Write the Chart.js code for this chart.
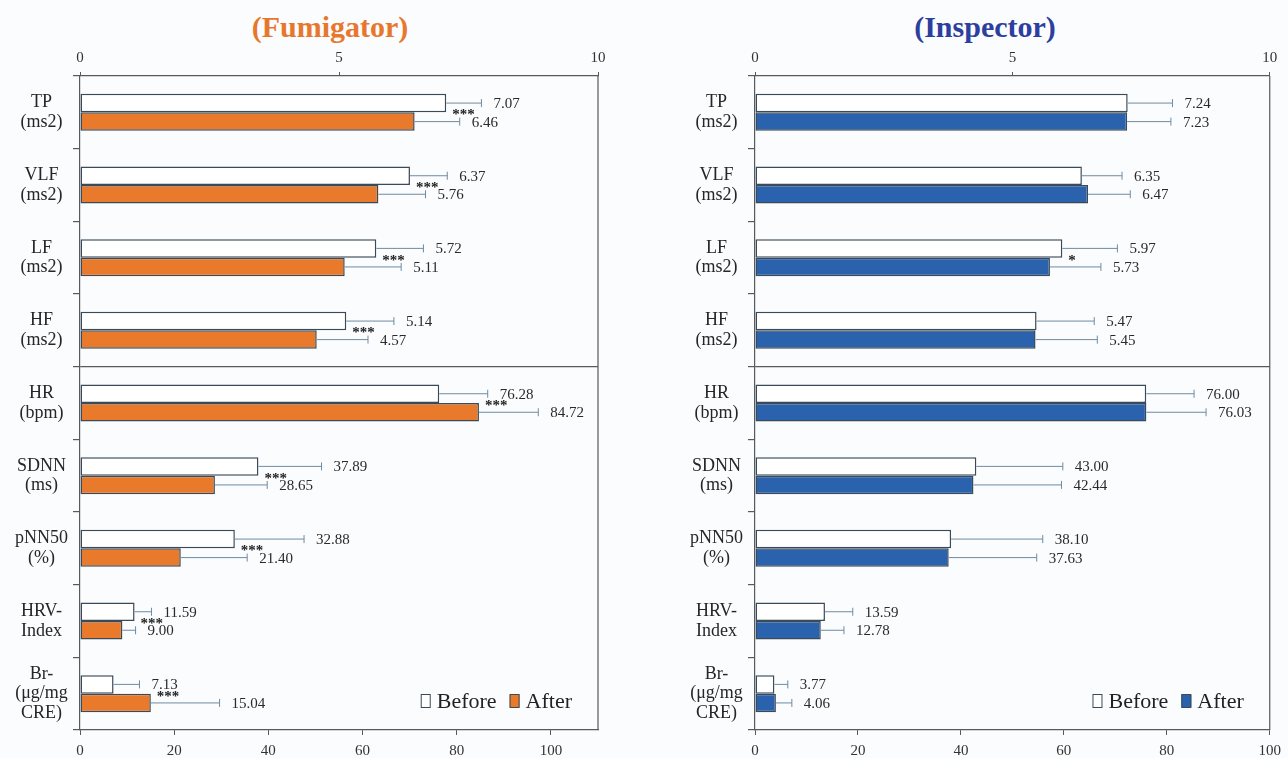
<!DOCTYPE html>
<html><head><meta charset="utf-8">
<script src="https://cdn.jsdelivr.net/npm/chart.js@4"></script>
<style>
html,body{margin:0;padding:0;background:#fbfcfd;}
body{width:1288px;height:758px;position:relative;overflow:hidden;}
.title{position:absolute;top:9px;font-family:'Liberation Serif',serif;font-weight:bold;font-size:30px;line-height:36px;transform:translateX(-50%);white-space:nowrap;}
canvas{position:absolute;top:0;}
</style></head><body>
<div class="title" style="left:330px;color:#E8772E">(Fumigator)</div>
<div class="title" style="left:985px;color:#2C3E9E">(Inspector)</div>
<canvas id="c1" width="620" height="758" style="left:0"></canvas>
<canvas id="c2" width="613" height="758" style="left:675px"></canvas>
<script>
// ---------- data ----------
const categories = [["TP","(ms2)"],["VLF","(ms2)"],["LF","(ms2)"],["HF","(ms2)"],["HR","(bpm)"],["SDNN","(ms)"],["pNN50","(%)"],["HRV-","Index"],["Br-","(μg/mg","CRE)"]];
const topAxisRows = 4; // first rows are read on the top (0-10) axis
const topTickValues = [0, 5, 10];
const bottomTickValues = [0, 20, 40, 60, 80, 100];
const seriesLabels = ["Before", "After"];

const fumBefore   = [7.07, 6.37, 5.72, 5.14, 76.28, 37.89, 32.88, 11.59, 7.13];
const fumAfter    = [6.46, 5.76, 5.11, 4.57, 84.72, 28.65, 21.40, 9.00, 15.04];
const fumBeforeSD = [0.68, 0.72, 0.91, 0.92, 10.3, 13.4, 14.7, 3.6, 5.5];
const fumAfterSD  = [0.87, 0.91, 1.09, 0.99, 12.6, 11.1, 14.1, 2.8, 14.6];
const fumSig      = ["***","***","***","***","***","***","***","***","***"];
const fumBottomMax = 110;

const insBefore   = [7.24, 6.35, 5.97, 5.47, 76.00, 43.00, 38.10, 13.59, 3.77];
const insAfter    = [7.23, 6.47, 5.73, 5.45, 76.03, 42.44, 37.63, 12.78, 4.06];
const insBeforeSD = [0.87, 0.78, 1.07, 1.12, 9.3, 16.8, 17.8, 5.4, 2.6];
const insAfterSD  = [0.85, 0.82, 0.99, 1.20, 11.6, 17.1, 17.1, 4.5, 3.1];
const insSig      = ["","","*","","","","","",""];
const insBottomMax = 100;

// ---------- styles ----------
const FONT = "'Liberation Serif', serif";
const AXIS = '#555a5e';
const BAR_BORDER = '#3a4a58';
const ERR = '#6e8ba3';
Chart.defaults.font.family = FONT;
Chart.defaults.color = '#333';

const onTop = arr => arr.map((v, i) => i < topAxisRows ? v : null);
const onBottom = arr => arr.map((v, i) => i >= topAxisRows ? v : null);

const decorPlugin = {
  id: 'decor',
  beforeDatasetsDraw(chart) {
    const {ctx, chartArea: a} = chart;
    ctx.save();
    ctx.strokeStyle = AXIS; ctx.lineWidth = 1.2;
    ctx.beginPath(); ctx.moveTo(a.right, a.top); ctx.lineTo(a.right, a.bottom); ctx.stroke();
    ctx.restore();
  },
  afterDatasetsDraw(chart, args, opts) {
    const {ctx, chartArea: a} = chart;
    ctx.save();
    // error bars + value labels
    chart.data.datasets.forEach((ds, di) => {
      const meta = chart.getDatasetMeta(di);
      const xs = chart.scales[ds.xAxisID];
      meta.data.forEach((bar, i) => {
        const v = ds.data[i];
        if (v === null || v === undefined) return;
        const x0 = bar.x, y = bar.y;
        const x1 = xs.getPixelForValue(v + ds.sd[i]);
        ctx.strokeStyle = ERR; ctx.lineWidth = 1;
        ctx.beginPath();
        ctx.moveTo(x0, y); ctx.lineTo(x1, y);
        ctx.moveTo(x1, y - 4); ctx.lineTo(x1, y + 4);
        ctx.stroke();
        ctx.fillStyle = '#2a2a2a';
        ctx.font = "15px " + FONT;
        ctx.textAlign = 'left'; ctx.textBaseline = 'middle';
        ctx.fillText(v.toFixed(2), x1 + 12, y + 1);
      });
    });
    // significance marks
    const sig = opts.sig;
    sig.forEach((s, i) => {
      if (!s) return;
      const pair = i < topAxisRows ? [0, 1] : [2, 3];
      const b0 = chart.getDatasetMeta(pair[0]).data[i];
      const b1 = chart.getDatasetMeta(pair[1]).data[i];
      const x = Math.max(b0.x, b1.x) + 6;
      const y = (b0.y + b1.y) / 2 + 7;
      ctx.fillStyle = '#222';
      ctx.font = "bold 15px " + FONT;
      ctx.textAlign = 'left'; ctx.textBaseline = 'alphabetic';
      ctx.fillText(s, x, y);
    });
    // legend
    ctx.font = "22px " + FONT;
    ctx.textBaseline = 'middle'; ctx.textAlign = 'left';
    const cy = a.bottom - 29;
    const items = [0, 1].map(di => ({label: chart.data.datasets[di].label, fill: chart.data.datasets[di].backgroundColor}));
    let x = a.right - 26;
    for (let k = items.length - 1; k >= 0; k--) {
      const it = items[k];
      const w = ctx.measureText(it.label).width;
      x -= w;
      ctx.fillStyle = '#222';
      ctx.fillText(it.label, x, cy + 1);
      x -= 6 + 10;
      ctx.fillStyle = it.fill;
      ctx.fillRect(x, cy - 6.5, 10, 13);
      ctx.strokeStyle = BAR_BORDER; ctx.lineWidth = 1;
      ctx.strokeRect(x + 0.5, cy - 6.5, 9, 13);
      x -= 13;
    }
    ctx.restore();
  }
};

function makeChart(id, before, after, beforeSD, afterSD, sig, afterColor, bottomMax, padRight) {
  const common = {borderColor: BAR_BORDER, borderWidth: 1.5, borderSkipped: false, skipNull: true,
                  categoryPercentage: 0.51, barPercentage: 1.0};
  return new Chart(document.getElementById(id), {
    type: 'bar',
    data: {
      labels: categories,
      datasets: [
        Object.assign({label: seriesLabels[0], data: onTop(before), sd: onTop(beforeSD), xAxisID: 'xTop', backgroundColor: '#ffffff'}, common),
        Object.assign({label: seriesLabels[1], data: onTop(after), sd: onTop(afterSD), xAxisID: 'xTop', backgroundColor: afterColor}, common),
        Object.assign({label: seriesLabels[0], data: onBottom(before), sd: onBottom(beforeSD), xAxisID: 'x', backgroundColor: '#ffffff'}, common),
        Object.assign({label: seriesLabels[1], data: onBottom(after), sd: onBottom(afterSD), xAxisID: 'x', backgroundColor: afterColor}, common)
      ]
    },
    options: {
      indexAxis: 'y',
      responsive: false,
      animation: false,
      layout: {padding: {top: 44, right: padRight, left: 0, bottom: 0}},
      plugins: {legend: {display: false}, tooltip: {enabled: false}, decor: {sig: sig}},
      scales: {
        y: {
          type: 'category',
          afterFit: s => { s.width = 80; },
          border: {display: true, color: AXIS, width: 1.2},
          grid: {
            offset: true, drawOnChartArea: true, tickLength: 7, tickColor: AXIS, tickWidth: 1.2,
            color: c => c.index === topAxisRows ? AXIS : 'rgba(0,0,0,0)', lineWidth: 1.2
          },
          ticks: {crossAlign: 'center', padding: 5, font: {size: 18, lineHeight: 1.1}, color: '#262626', autoSkip: false}
        },
        xTop: {
          type: 'linear', axis: 'x', position: 'top', min: 0, max: 10,
          afterFit: s => { s.height = 32; },
          afterBuildTicks: s => { s.ticks = topTickValues.map(v => ({value: v})); },
          border: {display: true, color: AXIS, width: 1.2},
          grid: {drawOnChartArea: false, tickLength: 4, tickColor: AXIS},
          ticks: {padding: 5, font: {size: 15}, color: '#333'}
        },
        x: {
          type: 'linear', position: 'bottom', min: 0, max: bottomMax,
          afterFit: s => { s.height = 28; },
          afterBuildTicks: s => { s.ticks = bottomTickValues.map(v => ({value: v})); },
          border: {display: true, color: AXIS, width: 1.2},
          grid: {drawOnChartArea: false, tickLength: 5, tickColor: AXIS},
          ticks: {padding: 7, font: {size: 15}, color: '#333'}
        }
      }
    },
    plugins: [decorPlugin]
  });
}

makeChart('c1', fumBefore, fumAfter, fumBeforeSD, fumAfterSD, fumSig, '#E97A2C', fumBottomMax, 22);
makeChart('c2', insBefore, insAfter, insBeforeSD, insAfterSD, insSig, '#2B62AD', insBottomMax, 16);
</script>
</body></html>
